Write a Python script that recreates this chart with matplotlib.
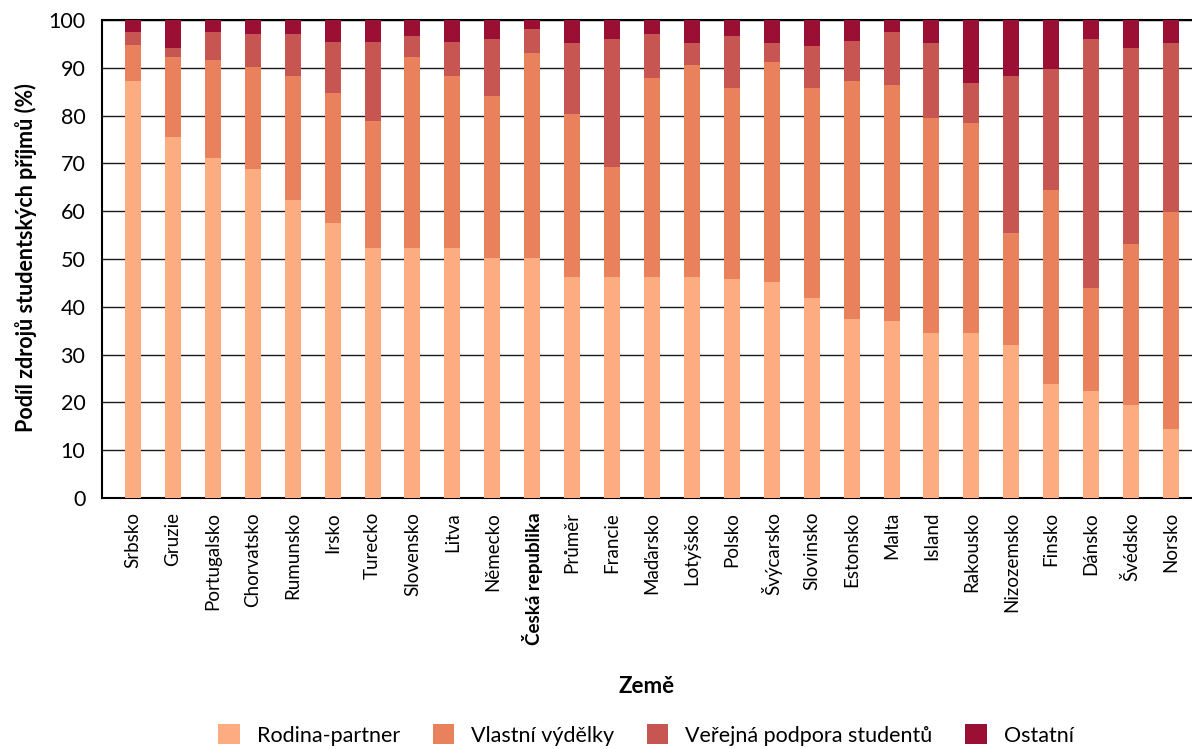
import matplotlib
matplotlib.use("Agg")
import matplotlib.pyplot as plt
import numpy as np

countries = ["Srbsko", "Gruzie", "Portugalsko", "Chorvatsko", "Rumunsko", "Irsko", "Turecko",
             "Slovensko", "Litva", "Německo", "Česká republika", "Průměr", "Francie", "Maďarsko",
             "Lotyšsko", "Polsko", "Švýcarsko", "Slovinsko", "Estonsko", "Malta", "Island",
             "Rakousko", "Nizozemsko", "Finsko", "Dánsko", "Švédsko", "Norsko"]

rodina = [87.3, 75.6, 71.2, 68.9, 62.4, 57.6, 52.2, 52.2, 52.2, 50.2, 50.2, 46.2, 46.2, 46.2,
          46.2, 45.8, 45.2, 41.8, 37.4, 37.0, 34.5, 34.5, 32.0, 23.8, 22.4, 19.5, 14.4]
vlastni = [7.4, 16.7, 20.4, 21.3, 25.9, 27.2, 26.7, 40.0, 36.1, 33.9, 42.9, 34.1, 23.0, 41.7,
           44.4, 40.0, 46.0, 44.0, 49.8, 49.4, 45.0, 44.0, 23.4, 40.6, 21.5, 33.6, 45.4]
verejna = [2.8, 1.8, 5.8, 6.9, 8.8, 10.5, 16.4, 4.5, 7.0, 11.9, 5.0, 14.9, 26.8, 9.2,
           4.6, 10.9, 4.0, 8.8, 8.4, 11.1, 15.7, 8.3, 32.9, 25.3, 52.1, 41.0, 35.4]
ostatni = [round(100 - a - b - c, 1) for a, b, c in zip(rodina, vlastni, verejna)]

series_names = ["Rodina-partner", "Vlastní výdělky", "Veřejná podpora studentů", "Ostatní"]
colors = ["#FDAB81", "#E8815C", "#C75551", "#9A0F33"]
yticks = [0, 10, 20, 30, 40, 50, 60, 70, 80, 90, 100]

plt.rcParams['font.family'] = ['Lato', 'DejaVu Sans']

fig = plt.figure(figsize=(11.92, 7.49), dpi=100)
ax = fig.add_axes([102/1192, 1 - 498/749, 1090/1192, 478/749])

x = np.arange(len(countries))
bottom = np.zeros(len(countries))
for vals, name, col in zip([rodina, vlastni, verejna, ostatni], series_names, colors):
    ax.bar(x, vals, width=0.40, bottom=bottom, color=col, label=name, zorder=3)
    bottom += np.array(vals)

ax.set_ylim(0, 100)
ax.set_xlim(-0.777, 26.526)
ax.set_yticks(yticks)
ax.set_yticklabels([str(t) for t in yticks], fontsize=15.5)
ax.yaxis.grid(True, color="#1a1a1a", linewidth=1.0, zorder=0)
ax.set_axisbelow(True)
ax.tick_params(axis='y', length=0, pad=12)
ax.tick_params(axis='x', length=0, pad=10)
ax.set_xticks(x)
ax.set_xticklabels(countries, rotation=90, fontsize=13.5)
for lbl in ax.get_xticklabels():
    if lbl.get_text() == "Česká republika":
        lbl.set_fontweight("bold")

ax.spines["right"].set_visible(False)
for s in ["left", "bottom", "top"]:
    ax.spines[s].set_color("black")
    ax.spines[s].set_linewidth(1.5)

ax.set_xlabel("Země", fontsize=16, fontweight="bold", labelpad=12)
ax.set_ylabel("Podíl zdrojů studentských příjmů (%)", fontsize=15.5, fontweight="bold")
ax.xaxis.set_label_coords((647 - 102) / 1090, -(676 - 498) / 478)
ax.yaxis.set_label_coords(-(102 - 37) / 1090, (498 - 258) / 478)

handles, labels = ax.get_legend_handles_labels()
fig.legend(handles, labels, loc="center", bbox_to_anchor=(646/1192, 1 - 735/749), ncol=4,
           frameon=False, fontsize=15.5, handlelength=1.0, handleheight=1.0, columnspacing=1.5,
           handletextpad=0.8)

fig.savefig("out.png", dpi=100)
